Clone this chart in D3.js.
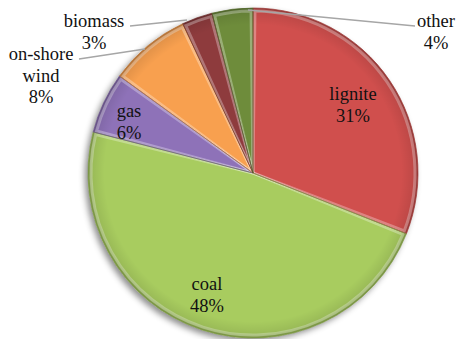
<!DOCTYPE html>
<html>
<head>
<meta charset="utf-8">
<script src="https://cdn.jsdelivr.net/npm/d3@7"></script>
<style>
  body { margin: 0; background: #fff; }
  #chart { position: relative; width: 457px; height: 339px; }
  #chart svg { position: absolute; left: 0; top: 0; }
</style>
</head>
<body>
<div id="chart"></div>
<script>
// data, clockwise from 12 o'clock
const sources = ["lignite", "coal", "gas", "on-shore wind", "biomass", "other"];
const shares = [31, 48, 6, 8, 3, 4];
const colors = ["#d0504d", "#a8cc5e", "#8e72b8", "#f8a050", "#8e3b3c", "#6e8c3a"];

const W = 457, H = 339;
const cx = 253, cy = 173, R = 165;

const chart = d3.select("#chart");
const svg = chart.append("svg")
  .attr("width", W).attr("height", H);

const defs = svg.append("defs");
const shadow = defs.append("filter").attr("id", "shadow")
  .attr("x", "-10%").attr("y", "-10%").attr("width", "120%").attr("height", "120%");
shadow.append("feDropShadow")
  .attr("dx", -3).attr("dy", 3).attr("stdDeviation", 3)
  .attr("flood-color", "#000").attr("flood-opacity", 0.45);

// soft rim darkening to fake the bevel
const rim = defs.append("radialGradient").attr("id", "rim")
  .attr("gradientUnits", "userSpaceOnUse")
  .attr("cx", 0).attr("cy", 0).attr("r", R);
rim.append("stop").attr("offset", "0.9").attr("stop-color", "#000").attr("stop-opacity", 0);
rim.append("stop").attr("offset", "0.97").attr("stop-color", "#000").attr("stop-opacity", 0.08);
rim.append("stop").attr("offset", "1").attr("stop-color", "#000").attr("stop-opacity", 0.3);

const pie = d3.pie().sort(null).value(d => d.v);
const arcs = pie(sources.map((s, i) => ({ s, v: shares[i], c: colors[i] })));

const arc = d3.arc().innerRadius(0).outerRadius(R);
const g = svg.append("g").attr("transform", `translate(${cx},${cy})`);

g.append("g").attr("filter", "url(#shadow)")
  .selectAll("path").data(arcs).enter().append("path")
  .attr("d", arc)
  .attr("fill", d => d.data.c);

g.selectAll(".rim").data(arcs).enter().append("path")
  .attr("d", arc)
  .attr("fill", "url(#rim)");

// light bevel line along each slice edge
const inner = d3.arc().innerRadius(0).outerRadius(R - 3);
g.selectAll(".bevel").data(arcs).enter().append("path")
  .attr("d", d => inner({ startAngle: d.startAngle + 0.012, endAngle: d.endAngle - 0.012 }))
  .attr("fill", "none")
  .attr("stroke", "#fff").attr("stroke-opacity", 0.3)
  .attr("stroke-width", 3);

g.selectAll(".edge").data(arcs).enter().append("path")
  .attr("d", arc)
  .attr("fill", "none")
  .attr("stroke", d => d3.color(d.data.c).darker(0.8))
  .attr("stroke-width", 0.7);

// label positions: centre x, first baseline, optional leader line
const labels = [
  { lines: ["lignite", "31%"], x: 353, y: 100 },
  { lines: ["coal", "48%"], x: 207, y: 290 },
  { lines: ["gas", "6%"], x: 129, y: 117 },
  { lines: ["on-shore", "wind", "8%"], x: 41, y: 60, leader: [[79, 59], [145, 49]] },
  { lines: ["biomass", "3%"], x: 94, y: 27, leader: [[130, 26], [187, 20]] },
  { lines: ["other", "4%"], x: 436, y: 27, leader: [[415, 26], [248, 10]] }
];

labels.forEach(l => {
  if (l.leader) {
    svg.append("path")
      .attr("d", d3.line()(l.leader))
      .attr("fill", "none")
      .attr("stroke", "#a6a6a6").attr("stroke-width", 1.3);
  }
  const t = svg.append("text")
    .attr("text-anchor", "middle")
    .attr("fill", "#111")
    .attr("style", "font-family:'Liberation Serif',serif !important;font-size:18.5px");
  l.lines.forEach((s, i) => {
    t.append("tspan")
      .attr("x", l.x).attr("y", l.y + i * 21.5)
      .attr("style", "font-family:'Liberation Serif',serif !important")
      .text(s);
  });
});
</script>
</body>
</html>
